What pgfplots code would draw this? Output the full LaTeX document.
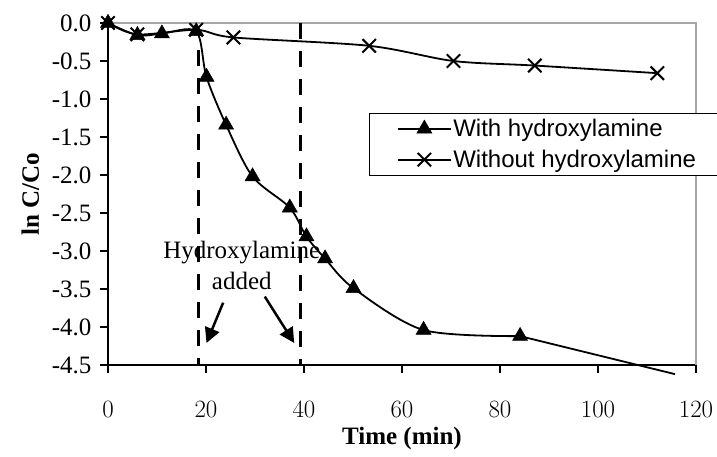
\documentclass[border=0pt]{standalone}
\usepackage{fontspec}
\setmainfont{Liberation Serif}
\newfontfamily\arialfont{Liberation Sans}
\usepackage{pgfplots}
\pgfplotsset{compat=1.18}
\usetikzlibrary{arrows.meta}

\begin{document}
\begin{tikzpicture}
\useasboundingbox (-108pt,-91pt) rectangle (609pt,365pt);
\begin{axis}[
  scale only axis, width=588pt, height=342pt,
  xmin=0, xmax=120, ymin=-4.5, ymax=0,
  axis x line*=bottom, axis y line*=left,
  axis line style={line width=1.2pt, -},
  xtick={0,20,40,60,80,100,120},
  ytick={-4.5,-4,-3.5,-3,-2.5,-2,-1.5,-1,-0.5,0},
  yticklabels={-4.5,-4.0,-3.5,-3.0,-2.5,-2.0,-1.5,-1.0,-0.5,0.0},
  tick align=outside, major tick length=8pt,
  tick style={line width=1.2pt, black},
  ticklabel style={font=\fontsize{25}{29}\selectfont},
  xticklabel style={yshift=-25pt},
  yticklabel style={xshift=-5pt},
  xlabel={\textbf{Time (min)}}, ylabel={\textbf{ln C/Co}},
  every axis x label/.style={at={(axis description cs:0.5,0)}, anchor=center, yshift=-73pt, font=\fontsize{25}{29}\selectfont},
  every axis y label/.style={at={(axis description cs:-0.132,0.5)}, anchor=center, rotate=90, font=\fontsize{25}{29}\selectfont},
  clip=false,
  legend style={at={(0.444,0.737)}, anchor=north west,
    font=\arialfont\fontsize{24}{28}\selectfont, draw=black, line width=0.8pt,
    inner xsep=28pt, inner ysep=4pt, row sep=8pt},
  legend cell align=left,
  legend image code/.code={\draw[mark repeat=2,mark phase=2] plot coordinates {(0pt,0pt) (26pt,0pt) (52pt,0pt)};},
]
\draw[gray!70, line width=1.2pt] (axis cs:0,0) -- (axis cs:120,0) -- (axis cs:120,-4.5);

\addplot[forget plot, black, line width=3pt, dash pattern=on 16pt off 12pt] coordinates {(18.4,-0.36) (18.4,-4.5)};
\addplot[forget plot, black, line width=3pt, dash pattern=on 16pt off 12pt] coordinates {(39.3,0) (39.3,-4.5)};

\addplot[black, line width=1.8pt, smooth, mark=triangle*, mark size=8.7pt, mark options={solid, line width=0.5pt}]
 coordinates {(0,0) (6,-0.16) (11,-0.14) (18,-0.11) (20.1,-0.71) (24.1,-1.34) (29.5,-2.02) (37.1,-2.43) (40.5,-2.81) (44.3,-3.10) (50.1,-3.49) (64.4,-4.04) (84.1,-4.12)};
\addlegendentry{With hydroxylamine}
\addplot[forget plot, black, line width=1.8pt] coordinates {(84.1,-4.12) (115.7,-4.62)};

\addplot[black, line width=1.8pt, smooth, mark=x, mark size=9.5pt, mark options={solid, line width=2pt}]
 coordinates {(0,0) (6,-0.15) (18,-0.09) (25.6,-0.19) (53.3,-0.30) (70.5,-0.50) (87.1,-0.56) (112.1,-0.66)};
\addlegendentry{Without hydroxylamine}

\draw[line width=2.5pt, -{Triangle[length=15pt,width=15pt]}] (axis cs:23.5,-3.68) -- (axis cs:20.1,-4.21);
\draw[line width=2.5pt, -{Triangle[length=15pt,width=15pt]}] (axis cs:32,-3.6) -- (axis cs:38,-4.21);
\node[font=\fontsize{25}{31}\selectfont, align=center] at (axis cs:27.3,-3.19) {Hydroxylamine\\added};
\end{axis}
\end{tikzpicture}
\end{document}
